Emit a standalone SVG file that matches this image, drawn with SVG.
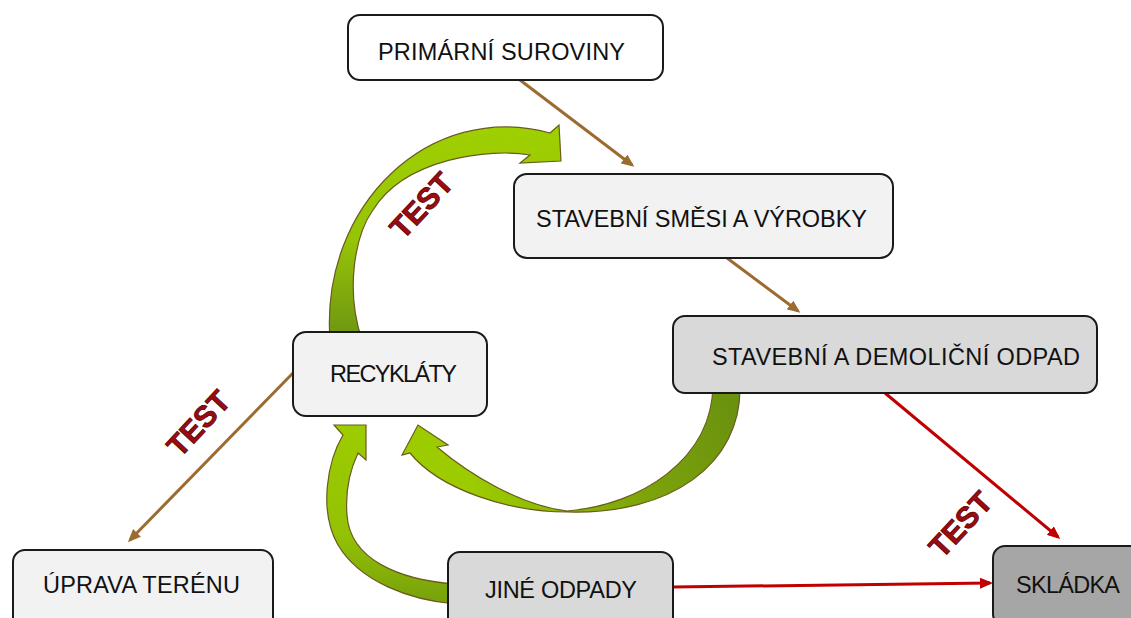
<svg xmlns="http://www.w3.org/2000/svg" width="1131" height="618" viewBox="0 0 1131 618">
<style>
.box{stroke:#1a1a1a;stroke-width:2}
.lbl{font-family:"Liberation Sans",Arial,sans-serif;font-size:23.5px;fill:#111111;text-anchor:middle}
.test{font-family:"Liberation Sans",Arial,sans-serif;font-size:30px;font-weight:bold;fill:#9b0c12;stroke:#5c0000;stroke-width:0.8;text-anchor:middle}
.brown{stroke:#9c6b30;stroke-width:3;fill:none}
.red{stroke:#c00000;stroke-width:3;fill:none}
.green{stroke:#6a5b1c;stroke-width:1.2}
</style>
<defs>
<marker id="ahBrown" viewBox="0 0 13 11" refX="10" refY="5.5" markerWidth="13" markerHeight="11" markerUnits="userSpaceOnUse" orient="auto">
<path d="M0,0 L13,5.5 L0,11 Z" fill="#9c6b30"/>
</marker>
<marker id="ahRed" viewBox="0 0 13 11" refX="10" refY="5.5" markerWidth="13" markerHeight="11" markerUnits="userSpaceOnUse" orient="auto">
<path d="M0,0 L13,5.5 L0,11 Z" fill="#c00000"/>
</marker>
<linearGradient id="gA" gradientUnits="userSpaceOnUse" x1="0" y1="125" x2="0" y2="335">
<stop offset="0" stop-color="#9fd000"/>
<stop offset="0.55" stop-color="#96c406"/>
<stop offset="1" stop-color="#6f9612"/>
</linearGradient>
<linearGradient id="gB" gradientUnits="userSpaceOnUse" x1="735" y1="395" x2="470" y2="490">
<stop offset="0" stop-color="#6a910f"/>
<stop offset="0.45" stop-color="#7ea50a"/>
<stop offset="1" stop-color="#9ccc00"/>
</linearGradient>
<linearGradient id="gC" gradientUnits="userSpaceOnUse" x1="0" y1="425" x2="0" y2="605">
<stop offset="0" stop-color="#9ccc00"/>
<stop offset="0.6" stop-color="#94c204"/>
<stop offset="1" stop-color="#76a00c"/>
</linearGradient>
</defs>

<g id="connectors">
<path id="greenA" class="green" fill="url(#gA)" d="M330,340 C320,205 430,100 550,133 L559,125 L561,161 L520,163 L530,155 C490,148 405,158 373,210 C355,235 345,290 362,340 Z"/>
<path id="greenB" class="green" fill="url(#gB)" d="M740,385 C742,465 670,515 567,512 C510,512 440,490 410,453 L402,455 L418,425 L448,445 L437,447 C470,475 520,505 567,511 C640,505 712,460 713,385 Z"/>
<path id="greenC" class="green" fill="url(#gC)" d="M455,584 C400,580 350,560 347,515 C345,490 350,470 358,453 L366,460 L366,425 L334,425 L343,435 C328,460 318,510 338,545 C360,582 410,600 455,604 Z"/>
<line class="brown" x1="520" y1="80" x2="632" y2="165" marker-end="url(#ahBrown)"/>
<line class="brown" x1="727" y1="258" x2="798" y2="311" marker-end="url(#ahBrown)"/>
<line class="brown" x1="293" y1="373" x2="130" y2="540" marker-end="url(#ahBrown)"/>
<line class="red" x1="885" y1="393" x2="1058" y2="537" marker-end="url(#ahRed)"/>
<line class="red" x1="673" y1="587" x2="990" y2="583" marker-end="url(#ahRed)"/>
<text class="test" transform="translate(421,205) rotate(-47)" x="0" y="11">TEST</text>
<text class="test" transform="translate(198,423) rotate(-47)" x="0" y="11">TEST</text>
<text class="test" transform="translate(960,524) rotate(-47)" x="0" y="11">TEST</text>
</g>

<g id="primarni">
<rect class="box" x="348" y="15" width="315" height="65" rx="12" fill="#ffffff"/>
<text class="lbl" x="501.5" y="60" textLength="247">PRIMÁRNÍ SUROVINY</text>
</g>
<g id="smesi">
<rect class="box" x="514" y="174" width="379" height="84" rx="13" fill="#f2f2f2"/>
<text class="lbl" x="701.5" y="227" textLength="331">STAVEBNÍ SMĚSI A VÝROBKY</text>
</g>
<g id="odpad">
<rect class="box" x="673" y="316" width="424" height="77" rx="12" fill="#d9d9d9"/>
<text class="lbl" x="896" y="365" textLength="368">STAVEBNÍ A DEMOLIČNÍ ODPAD</text>
</g>
<g id="recyklaty">
<rect class="box" x="293" y="332" width="194" height="84" rx="13" fill="#f2f2f2"/>
<text class="lbl" x="393.5" y="382" textLength="127">RECYKLÁTY</text>
</g>
<g id="uprava">
<rect class="box" x="13" y="550" width="260" height="80" rx="12" fill="#f2f2f2"/>
<text class="lbl" x="141.5" y="593" textLength="197">ÚPRAVA TERÉNU</text>
</g>
<g id="jine">
<rect class="box" x="448" y="552" width="225" height="80" rx="12" fill="#d9d9d9"/>
<text class="lbl" x="561" y="598" textLength="152">JINÉ ODPADY</text>
</g>
<g id="skladka">
<rect class="box" x="993" y="546" width="160" height="80" rx="12" fill="#a6a6a6"/>
<text class="lbl" x="1068" y="593" textLength="104">SKLÁDKA</text>
</g>
</svg>
